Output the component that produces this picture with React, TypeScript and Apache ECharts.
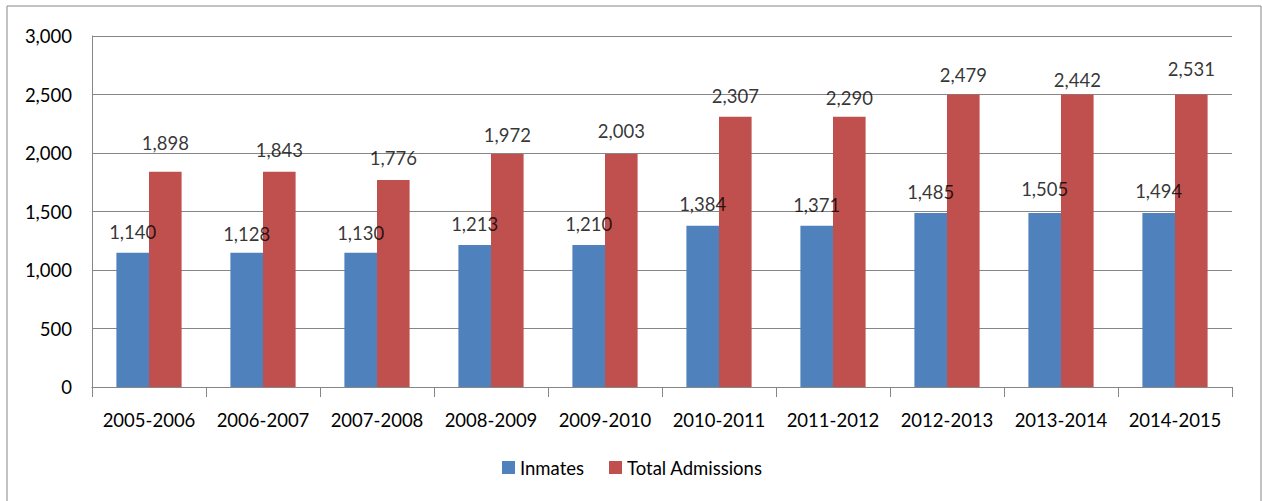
import React, { useEffect, useRef } from "react";
import * as echarts from "echarts";

const categories = [
  "2005-2006", "2006-2007", "2007-2008", "2008-2009", "2009-2010",
  "2010-2011", "2011-2012", "2012-2013", "2013-2014", "2014-2015",
];
// values printed as data labels
const inmatesLabels = [1140, 1128, 1130, 1213, 1210, 1384, 1371, 1485, 1505, 1494];
const admissionsLabels = [1898, 1843, 1776, 1972, 2003, 2307, 2290, 2479, 2442, 2531];
// bar heights as drawn in the picture
const inmatesBars = [1148, 1148, 1148, 1214, 1214, 1379, 1379, 1487, 1487, 1487];
const admissionsBars = [1840, 1840, 1769, 1991, 1991, 2310, 2310, 2500, 2500, 2500];
const seriesNames = ["Inmates", "Total Admissions"];
const yTicks = { min: 0, max: 3000, interval: 500 };

const FONT = "Lato, 'Noto Sans', sans-serif";
const GRAY = "#868686";
const BLUE = "#4F81BD";
const RED = "#C0504D";

export default function App() {
  const ref = useRef<HTMLDivElement>(null);
  useEffect(() => {
    document.body.style.margin = "0";
    const chart = echarts.init(ref.current!, undefined, { renderer: "svg" });
    const fmt = (v: number) => v.toLocaleString("en-US");
    const labelStyle = {
      show: true,
      position: "top" as const,
      distance: 12,
      color: "#000",
      fontFamily: FONT,
      fontSize: 18.5,
      formatter: (p: any) => fmt(p.value),
    };
    chart.setOption({
      animation: false,
      textStyle: { fontFamily: FONT },
      graphic: [
        {
          type: "rect",
          shape: { x: 7, y: 6, width: 1254, height: 530 },
          style: { fill: "none", stroke: GRAY, lineWidth: 1 },
          silent: true,
          z: -10,
        },
      ],
      grid: { left: 92, right: 30, top: 36, bottom: 114, containLabel: false },
      legend: {
        left: 497,
        top: 453,
        itemWidth: 13,
        itemHeight: 13,
        itemGap: 25,
        icon: "rect",
        textStyle: { color: "#000", fontFamily: FONT, fontSize: 18.5, padding: [0, 0, 0, 0] },
        data: seriesNames,
      },
      xAxis: {
        type: "category",
        data: categories,
        boundaryGap: true,
        axisLine: { show: true, lineStyle: { color: GRAY, width: 1 } },
        axisTick: { show: true, alignWithLabel: false, length: 10, lineStyle: { color: GRAY, width: 1 } },
        axisLabel: { color: "#000", fontFamily: FONT, fontSize: 18.5, margin: 23, interval: 0 },
        splitLine: { show: false },
      },
      yAxis: {
        type: "value",
        min: yTicks.min,
        max: yTicks.max,
        interval: yTicks.interval,
        axisLine: { show: true, lineStyle: { color: GRAY, width: 1 } },
        axisTick: { show: false },
        axisLabel: { color: "#000", fontFamily: FONT, fontSize: 18.5, margin: 20, formatter: (v: number) => fmt(v) },
        splitLine: { show: true, lineStyle: { color: GRAY, width: 1 } },
      },
      series: [
        {
          name: seriesNames[0],
          type: "bar",
          data: inmatesBars,
          barWidth: 32.6,
          barGap: "0%",
          itemStyle: { color: BLUE },
          z: 2,
        },
        {
          name: seriesNames[1],
          type: "bar",
          data: admissionsBars,
          barWidth: 32.6,
          barGap: "0%",
          itemStyle: { color: RED },
          z: 2,
        },
        {
          name: "inmatesLabels",
          type: "scatter",
          data: inmatesLabels,
          symbolSize: 0,
          itemStyle: { color: "transparent" },
          label: { ...labelStyle, offset: [-16.3, 0] },
          z: 5,
          silent: true,
        },
        {
          name: "admissionsLabels",
          type: "scatter",
          data: admissionsLabels,
          symbolSize: 0,
          itemStyle: { color: "transparent" },
          label: { ...labelStyle, offset: [16.3, 0] },
          z: 5,
          silent: true,
        },
      ],
    });
    return () => chart.dispose();
  }, []);
  return <div ref={ref} style={{ width: 1262, height: 501 }} />;
}
